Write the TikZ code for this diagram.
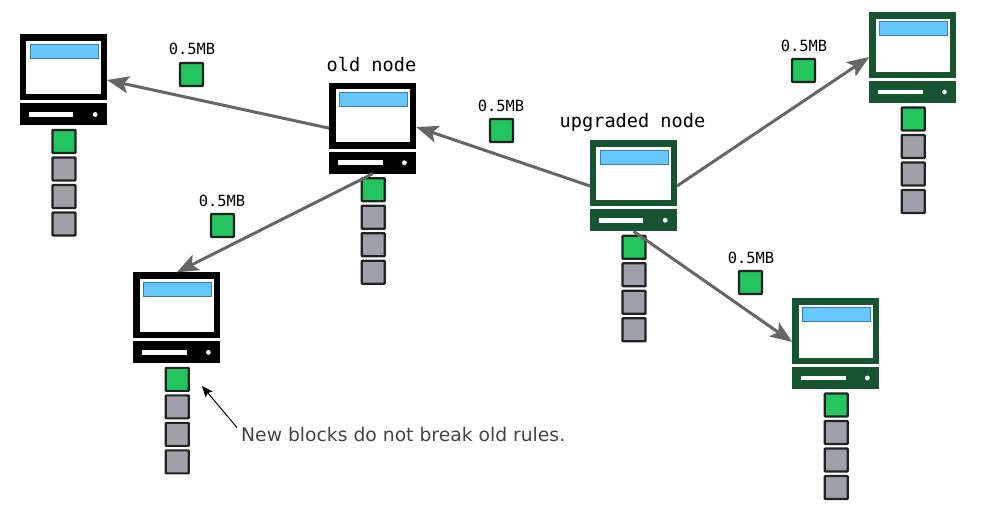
\documentclass[tikz,border=0pt]{standalone}
\usepackage{fontspec}
\setmainfont{DejaVu Sans}
\setmonofont{DejaVu Sans Mono}
\usetikzlibrary{arrows.meta,calc}
\definecolor{blockgreen}{HTML}{22C55E}
\definecolor{blockgray}{HTML}{A0A0AA}
\definecolor{blockedge}{HTML}{222222}
\definecolor{screenblue}{HTML}{66C7FF}
\definecolor{screenedge}{HTML}{3B7EA1}
\definecolor{oldcol}{HTML}{000000}
\definecolor{newcol}{HTML}{165530}
\definecolor{linkcol}{HTML}{666666}
\definecolor{notecol}{HTML}{444444}
\tikzset{
  boxbase/.style={draw=none,inner sep=0pt,outer sep=0pt,anchor=north west},
  monitor/.style={boxbase,minimum width=87pt,minimum height=66pt},
  tower/.style={boxbase,minimum width=87pt,minimum height=22pt},
  screen/.style={boxbase,fill=white,minimum width=74.6pt,minimum height=53pt},
  titlebar/.style={boxbase,fill=screenblue,draw=screenedge,line width=.8pt,minimum width=68pt,minimum height=14pt},
  slot/.style={boxbase,fill=white,minimum width=44.6pt,minimum height=4.8pt},
  led/.style={circle,fill=white,inner sep=0pt,outer sep=0pt,minimum size=4.8pt},
  blockbox/.style={boxbase,draw=blockedge,line width=2.2pt,rounded corners=.6pt,minimum width=23pt,minimum height=23pt},
  newblock/.style={blockbox,fill=blockgreen},
  oldblock/.style={blockbox,fill=blockgray},
  link/.style={draw=linkcol,line width=3pt,-{Stealth[length=22pt,width=17pt,inset=5pt]}},
  sizelabel/.style={font=\ttfamily\fontsize{15.4}{17}\selectfont,inner sep=0pt},
  nodelabel/.style={font=\ttfamily\fontsize{18.6}{21}\selectfont,inner sep=0pt},
  note/.style={font=\fontsize{18.75}{21}\selectfont,text=notecol,inner sep=0pt,anchor=west},
  notearrow/.style={draw=black,line width=1pt,-{Stealth[length=11pt,width=9pt,inset=2pt]}},
}
% #1 name, #2 left, #3 top, #4 colour
\newcommand{\computer}[4]{%
  \node[monitor,fill=#4] (#1) at (#2,#3) {};
  \node[screen] (#1scr) at (#2+6.3,#3+6.6) {};
  \node[titlebar] (#1bar) at (#2+10,#3+9.8) {};
  \node[tower,fill=#4] (#1base) at (#2,#3+69) {};
  \node[slot] (#1slot) at (#2+8.7,#3+77.6) {};
  \node[led] (#1led) at (#2+75.2,#3+80) {};
  \node[newblock] (#1a) at (#2+32.5,#3+95.5) {};
  \node[oldblock] (#1b) at (#2+32.5,#3+123) {};
  \node[oldblock] (#1c) at (#2+32.5,#3+150.5) {};
  \node[oldblock] (#1d) at (#2+32.5,#3+178) {};
}
\begin{document}
\begin{tikzpicture}[x=1pt,y=-1pt]
\useasboundingbox (0,0) rectangle (983,518);
\computer{pa}{20}{34.5}{oldcol}
\computer{old}{329.2}{82.7}{oldcol}
\computer{pb}{133.2}{272.4}{oldcol}
\computer{up}{590}{140.3}{newcol}
\computer{pc}{869.2}{12}{newcol}
\computer{pd}{792.2}{298}{newcol}
% floating blocks
\node[newblock] (fa) at (180,63) {};
\node[newblock] (fb) at (490,119) {};
\node[newblock] (fc) at (211,214) {};
\node[newblock] (fd) at (792,59) {};
\node[newblock] (fe) at (739,271) {};
\node[sizelabel] (la) at (192,48.6) {0.5MB};
\node[sizelabel] (lb) at (501,105.6) {0.5MB};
\node[sizelabel] (lc) at (222,200.6) {0.5MB};
\node[sizelabel] (ld) at (804,45.6) {0.5MB};
\node[sizelabel] (le) at (751,257.6) {0.5MB};
\node[nodelabel] (lold) at (371.5,65) {old node};
\node[nodelabel] (lup) at (632.5,122) {upgraded node};
% links
\draw[link] ([yshift=-12.5pt]old.west) -- ([yshift=-12.5pt]pa.east);
\draw[link] (oldbase.south) -- (pb.north);
\draw[link] ([yshift=-12.7pt]up.west) -- ([yshift=-11.3pt]old.east);
\draw[link] ([yshift=-12.7pt]up.east) -- ([yshift=-12pt]pc.west);
\draw[link] (upbase.south) -- ([yshift=-11pt]pd.west);
% note
\node[note] (noteText) at (241,435) {New blocks do not break old rules.};
\coordinate (noteTip) at (202,386);
\draw[notearrow] ([xshift=-4pt]noteText.north west) -- (noteTip);
\end{tikzpicture}
\end{document}
